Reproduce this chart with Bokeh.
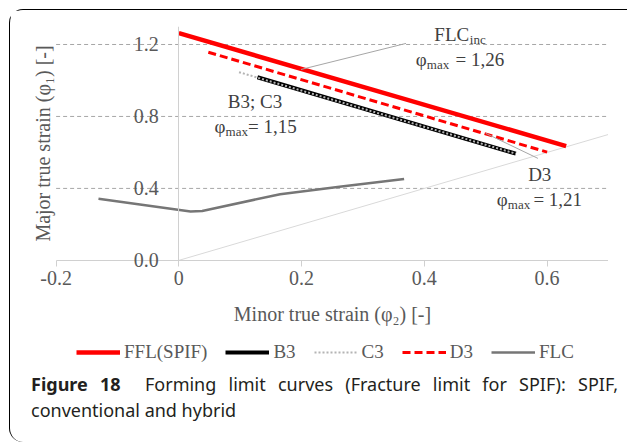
from bokeh.plotting import figure
from bokeh.layouts import column
from bokeh.models import (FixedTicker, CustomJSTickFormatter, Legend, LegendItem,
                          Label, LinearAxis, Div)
from bokeh.embed import file_html
from bokeh.resources import INLINE

# ---------------- data ----------------
ffl_x = [0.0, 0.631]
ffl_y = [1.263, 0.635]
b3_x = [0.128, 0.549]
b3_y = [1.018, 0.593]
c3_x = [0.098, 0.549]
c3_y = [1.046, 0.593]
d3_x = [0.048, 0.600]
d3_y = [1.157, 0.602]
flc_x = [-0.131, 0.019, 0.038, 0.165, 0.265, 0.367]
flc_y = [0.343, 0.272, 0.274, 0.368, 0.410, 0.452]
diag_x = [0.0, 0.7]
diag_y = [0.0, 0.7]

x_ticks = [-0.2, 0.0, 0.2, 0.4, 0.6]
x_tick_labels = ["-0.2", "0", "0.2", "0.4", "0.6"]
y_ticks = [0.0, 0.4, 0.8, 1.2]
y_tick_labels = ["0.0", "0.4", "0.8", "1.2"]
grid_ticks = [0.4, 0.8, 1.2]
x_min, x_max = -0.2, 0.7
y_min, y_max = 0.0, 1.3

SERIF = "Liberation Serif"
SANS = "Noto Sans"
TXT = "#595959"
ANN = "#404040"
AXC = "#d0d0d0"

# the frame also holds the room round the axes (tick labels, axis titles, legend)
x_low = -0.245
y_low = -0.64
p = figure(frame_width=580, frame_height=349, x_range=(x_low, x_max), y_range=(y_low, y_max),
           output_backend="svg", toolbar_location=None, y_axis_location=None,
           min_border_left=18, min_border_right=0, min_border_top=16, min_border_bottom=0)
p.outline_line_color = None
p.background_fill_color = "white"
p.border_fill_color = "white"
p.grid.visible = False

# horizontal dashed gridlines spanning the plot area
p.segment(x0=x_min, y0=grid_ticks, x1=x_max, y1=grid_ticks, line_color="#a6a6a6",
          line_dash="4 3", line_width=1)

def tick_fmt(ticks, labels):
    return CustomJSTickFormatter(args=dict(tv=ticks, tl=labels), code="""
for (let i = 0; i < tv.length; i++) { if (Math.abs(tv[i] - tick) < 1e-9) return tl[i]; }
return '';
""")

# y-axis title, at the left edge of the plot area
ytitle = LinearAxis(fixed_location=x_min, bounds=(y_min, y_max), ticker=FixedTicker(ticks=[]),
                    axis_line_color=None, major_tick_line_color=None, minor_tick_line_color=None,
                    major_tick_out=0, major_tick_in=0, major_label_standoff=0,
                    axis_label="Major true strain (φ₁) [-]", axis_label_standoff=3,
                    axis_label_text_font=SERIF, axis_label_text_font_size="20px",
                    axis_label_text_font_style="normal", axis_label_text_color=TXT)
p.add_layout(ytitle, "left")
# y axis crossing at x = 0
yax = LinearAxis(fixed_location=0, bounds=(y_min, y_max), ticker=FixedTicker(ticks=y_ticks),
                 formatter=tick_fmt(y_ticks, y_tick_labels),
                 axis_line_color=AXC, major_tick_line_color=None, minor_tick_line_color=None,
                 major_tick_out=0, major_tick_in=0, major_label_standoff=20,
                 major_label_text_font=SERIF, major_label_text_font_size="20px",
                 major_label_text_color=TXT)
p.add_layout(yax, "left")

# x axis crossing at y = 0
ax = p.xaxis[0]
ax.fixed_location = 0
ax.bounds = (x_min, x_max)
ax.ticker = FixedTicker(ticks=x_ticks)
ax.formatter = tick_fmt(x_ticks, x_tick_labels)
ax.axis_line_color = AXC
ax.major_tick_line_color = AXC
ax.major_tick_out = 6
ax.major_tick_in = 0
ax.minor_tick_line_color = None
ax.major_label_text_font = SERIF
ax.major_label_text_font_size = "20px"
ax.major_label_text_color = TXT
ax.major_label_standoff = 5
ax.axis_label = "Minor true strain (φ₂) [-]"
ax.axis_label_text_font = SERIF
ax.axis_label_text_font_size = "20px"
ax.axis_label_text_font_style = "normal"
ax.axis_label_text_color = TXT
ax.axis_label_standoff = 14

# series
p.line(diag_x, diag_y, line_color="#d9d9d9", line_width=1)
r_flc = p.line(flc_x, flc_y, line_color="#767676", line_width=2.5)
r_ffl = p.line(ffl_x, ffl_y, line_color="#ff0000", line_width=4.5)
r_d3 = p.line(d3_x, d3_y, line_color="#ff0000", line_width=3, line_dash="8 4")
r_b3 = p.line(b3_x, b3_y, line_color="#000000", line_width=4)
r_c3 = p.line(c3_x, c3_y, line_color="#b4b4b4", line_width=2, line_dash="2 2")

# leader lines of the annotations
p.segment(x0=[0.199, 0.500], y0=[1.061, 0.706], x1=[0.370, 0.585], y1=[1.206, 0.567],
          line_color="#a6a6a6", line_width=1)

def lab(x, y, t, align="left", size="19px"):
    p.add_layout(Label(x=x, y=y, text=t, text_align=align, text_baseline="middle",
                       text_font=SERIF, text_font_size=size, text_color=ANN))

# FLCinc
lab(0.473, 1.258, "FLC", "right")
lab(0.474, 1.225, "inc", "left", "13px")
lab(0.386, 1.114, "φ", "left")
lab(0.404, 1.086, "max", "left", "13px")
lab(0.530, 1.114, "= 1,26", "right")
# B3; C3
lab(0.124, 0.881, "B3; C3", "center")
lab(0.058, 0.742, "φ", "left")
lab(0.076, 0.714, "max", "left", "13px")
lab(0.192, 0.742, "= 1,15", "right")
# D3
lab(0.588, 0.475, "D3", "center")
lab(0.518, 0.336, "φ", "left")
lab(0.536, 0.308, "max", "left", "13px")
lab(0.657, 0.336, "= 1,21", "right")

legend = Legend(items=[LegendItem(label="FFL(SPIF)", renderers=[r_ffl]),
                       LegendItem(label="B3", renderers=[r_b3]),
                       LegendItem(label="C3", renderers=[r_c3]),
                       LegendItem(label="D3", renderers=[r_d3]),
                       LegendItem(label="FLC", renderers=[r_flc])],
                orientation="horizontal", location=(48, 12), border_line_color=None,
                background_fill_alpha=0, glyph_width=44, glyph_height=20, label_standoff=4,
                spacing=18, padding=0, margin=0, label_text_font=SERIF,
                label_text_font_size="19px", label_text_color=TXT)
p.add_layout(legend, "center")

caption = Div(text="<div style='width:587px;text-align:justify;text-align-last:justify'>"
                   "<b>Figure 18</b>&nbsp;&nbsp;Forming limit curves (Fracture limit for SPIF): SPIF,</div>"
                   "<div>conventional and hybrid</div>",
              width=615, height=66,
              styles={"font-family": SANS, "font-size": "18px", "line-height": "26px",
                      "color": "#231f20", "padding-left": "16px", "margin-top": "-4px"})

layout = column(p, caption, margin=(9, 0, 0, 9),
                styles={"border-top": "1.5px solid #000", "border-left": "1.5px solid #000",
                        "border-top-left-radius": "14px", "border-bottom-left-radius": "14px",
                        "background": "white"})

open("out.html", "w").write(file_html(layout, INLINE))
